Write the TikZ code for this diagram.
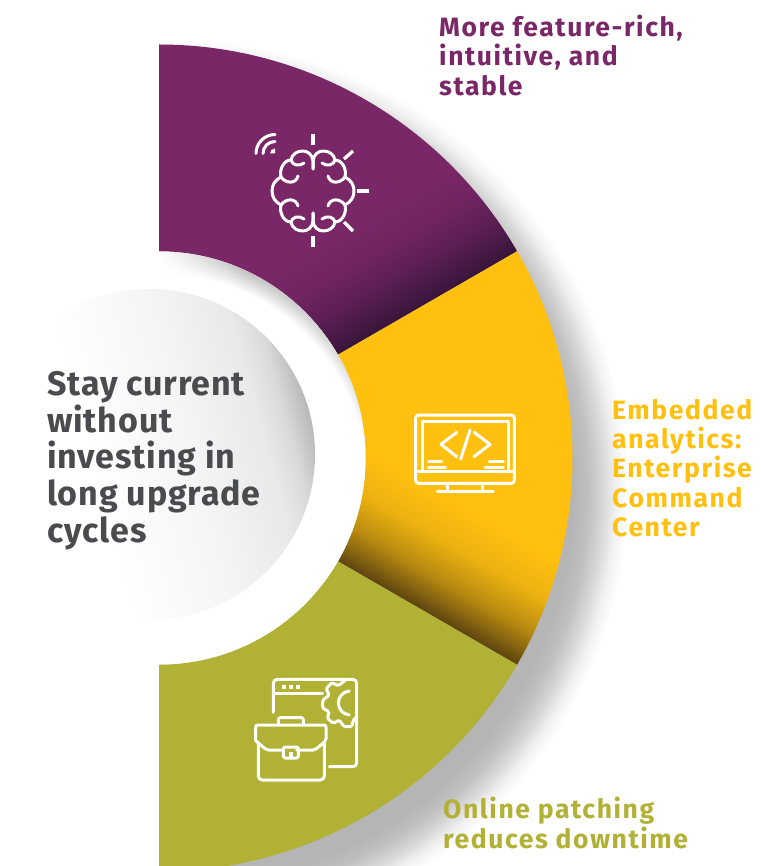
\documentclass[tikz,border=0pt]{standalone}
\usepackage{fontspec}
\setmainfont{Fira Sans}
\newfontfamily\labelfont{Fira Sans}[LetterSpace=6]
\newfontfamily\titlefont{Fira Sans}[LetterSpace=2.5]
\usetikzlibrary{fadings}
\definecolor{plum}{HTML}{7A2768}
\definecolor{plumdark}{HTML}{38153A}
\colorlet{plumA}{plum!50!plumdark}
\colorlet{plumB}{plum!85!plumdark}
\definecolor{amber}{HTML}{FFC010}
\definecolor{amberdark}{HTML}{5E4510}
\colorlet{amberA}{amber!55!amberdark}
\colorlet{amberB}{amber!88!amberdark}
\definecolor{olive}{HTML}{B1B135}
\definecolor{inktext}{HTML}{4A4B4F}
\definecolor{sdA}{HTML}{B5B5B5}
\definecolor{sdB}{HTML}{C0C0C0}
\definecolor{sdC}{HTML}{D8D8D8}
\definecolor{sdD}{HTML}{F0F0F0}
\definecolor{inA}{HTML}{DDDDDD}
\definecolor{inB}{HTML}{ACACAC}
\definecolor{ciA}{HTML}{F5F5F5}
\definecolor{ciB}{HTML}{E9E9E9}
\definecolor{ciC}{HTML}{DADADA}
\definecolor{ciD}{HTML}{B8B8B8}
\pgfdeclareradialshading{outershadow}{\pgfpoint{0bp}{0bp}}{color(0bp)=(sdA);color(21.94bp)=(sdA);color(22.78bp)=(sdB);color(23.61bp)=(sdC);color(24.28bp)=(sdD);color(25bp)=(white);color(50bp)=(white)}
\pgfdeclareradialshading{innershadow}{\pgfpoint{0bp}{0bp}}{color(0bp)=(white);color(22.02bp)=(white);color(23.19bp)=(inA);color(25bp)=(inB);color(50bp)=(inB)}
\pgfdeclarehorizontalshading{circlegrad}{100bp}{color(0bp)=(white);color(40.9bp)=(white);color(56bp)=(ciA);color(67.4bp)=(ciB);color(71.2bp)=(ciC);color(75bp)=(ciD);color(100bp)=(ciD)}
\pgfdeclareverticalshading{plumgrad}{100bp}{color(0bp)=(plumdark);color(50bp)=(plumdark);color(52.19bp)=(plumA);color(54.38bp)=(plumB);color(56.88bp)=(plum);color(100bp)=(plum)}
\pgfdeclareverticalshading{ambergrad}{100bp}{color(0bp)=(amberdark);color(50bp)=(amberdark);color(52.19bp)=(amberA);color(54.38bp)=(amberB);color(56.88bp)=(amber);color(100bp)=(amber)}
\newcommand{\sectorpath}[2]{(#1:413.5) arc[start angle=#1,end angle=#2,radius=413.5] -- (#2:206.5) arc[start angle=#2,end angle=#1,radius=206.5] -- cycle}
\tikzset{
  iconline/.style={draw=white,line width=3pt,line cap=round,line join=round},
  ticks/.style={draw=white,line width=3.3pt,line cap=butt},
  labeltext/.style={inner sep=0pt,anchor=north west,align=left,font=\fontsize{26.5}{29.3}\labelfont\bfseries},
  sectorframe/.style={shift={(159,458)},y=1pt},
}
\begin{document}
\begin{tikzpicture}[x=1pt,y=-1pt]
\useasboundingbox (0,0) rectangle (760,866);
\clip (0,0) rectangle (760,866);
\fill[white] (0,0) rectangle (760,866);
% outer shadow
\begin{scope}
  \clip (159,0) rectangle (760,866);
  \shade[shading=outershadow] (178,490) circle[radius=450];
\end{scope}
% sectors
\begin{scope}
  \clip[sectorframe] \sectorpath{90}{30};
  \shade[shading=plumgrad,shading angle=30] (27.5,-97) rectangle (827.5,703);
\end{scope}
\begin{scope}
  \clip[sectorframe] \sectorpath{30}{-30};
  \shade[shading=ambergrad,shading angle=-30] (27.5,213) rectangle (827.5,1013);
\end{scope}
\fill[olive,sectorframe] \sectorpath{-30}{-90};
\fill[white] (159,458) circle[radius=206.5];
% inner shadow
\begin{scope}
  \clip (159,458) circle[radius=206.5];
  \clip (159,200) rectangle (400,700);
  \shade[shading=innershadow] (159,481) circle[radius=235];
  \fill[white,path fading=east] (159,240) rectangle (245,330);
\end{scope}
% central disc
\shade[shading=circlegrad,shading angle=15] (149.5,454.5) circle[radius=165.5];
\node[inner sep=0pt,anchor=north west,align=left,text=inktext,font=\fontsize{34}{36.8}\titlefont\bfseries] (title) at (47,371) {Stay current\\without\\investing in\\long upgrade\\cycles};
% labels
\node[labeltext,text=plum] (lab1) at (439,15) {More feature-rich,\\intuitive, and\\stable};
\node[labeltext,text=amber] (lab2) at (612,399) {Embedded\\analytics:\\Enterprise\\Command\\Center};
\node[labeltext,text=olive] (lab3) at (443,797) {Online patching\\reduces downtime};
% brain icon
\draw[ticks] (313,134) -- (313,145);
\draw[ticks] (313,236) -- (313,247);
\draw[ticks] (357,191) -- (369,191);
\draw[ticks] (344,159) -- (353,151);
\draw[ticks] (344,222) -- (353,231);
\begin{scope}[iconline]
  \draw (275,153.5) ++(-19,0) arc[start angle=180,end angle=270,radius=19];
  \draw (275,153.5) ++(-12,0) arc[start angle=180,end angle=270,radius=12];
\end{scope}
\fill[white] (275,153.5) -- ++(-5,0) arc[start angle=180,end angle=270,radius=5] -- cycle;
\foreach \sx/\sy in {1/1,-1/1,1/-1,-1/-1}{
  \begin{scope}[shift={(313,191)},xscale=\sx,yscale=\sy,y=1pt,iconline]
    \draw (0,22) -- (0,30) .. controls (0.5,36) and (5,40) .. (10,40) .. controls (16,40) and (21,37) .. (22,31) .. controls (29,31) and (34,22) .. (32,14) .. controls (38,11) and (41,6) .. (41,0);
    \draw (22,31) .. controls (21,26) and (14,24) .. (9,28);
    \draw (32,14) .. controls (27,7) and (17,7) .. (15,15);
  \end{scope}
}
% monitor icon
\begin{scope}[iconline]
  \draw[rounded corners=3pt] (415.7,415) rectangle (514.3,483.3);
  \draw (422.3,471.7) -- (422.3,421.7) -- (508.3,421.7) -- (508.3,471.7);
  \draw (415.7,471.7) -- (514.3,471.7);
  \draw (447.7,483.3) -- (447.7,491.7);
  \draw (482.3,483.3) -- (482.3,491.7);
  \draw (437.3,491.7) -- (493.3,491.7);
  \draw (456.7,432.3) -- (441,444.3) -- (456.7,456.7);
  \draw (474,432.3) -- (490,444.3) -- (474,456.7);
  \draw (470,430) -- (460.7,459);
  \draw (428.3,461.3) -- (441.7,461.3);
  \draw (428.3,467.3) -- (445.7,467.3);
  \draw (489.3,461.3) -- (503.3,461.3);
  \draw (485,467.3) -- (503.3,467.3);
\end{scope}
% window + gear + briefcase icon
\begin{scope}[iconline]
  \draw[rounded corners=4pt] (273.3,712.3) -- (273.3,679.3) -- (356.7,679.3) -- (356.7,766.7) -- (329.3,766.7);
  \draw (274.3,693.3) -- (322.7,693.3);
  \draw[rounded corners=1.5pt] (345,680.5) -- (338.3,685.7) -- (331.7,682.7) -- (326,689) -- (329.3,695) -- (322.7,700) -- (322.7,708.3) -- (329.3,711.7) -- (327.3,718.3) -- (333.3,723.3) -- (339.3,720) -- (344,726.7) -- (351.7,726.7) -- (353.3,720) -- (356.7,717);
  \draw (349.3,691) arc[start angle=265,end angle=95,radius=12];
  \draw[rounded corners=2pt] (278.3,724) -- (278.3,717.7) -- (303.3,717.7) -- (303.3,724);
  \draw[rounded corners=2pt] (255.7,740.7) -- (255.7,725) -- (326,725) -- (326,740.7) -- (315,750) -- (296.7,750);
  \draw[rounded corners=2pt] (283.3,750) -- (266.7,750) -- (255.7,740.7);
  \draw[rounded corners=4pt] (258.3,743) -- (258.3,780) -- (324.3,780) -- (324.3,743);
  \draw[rounded corners=2pt] (283.3,747) -- (283.3,758) -- (298.3,758) -- (298.3,747) -- cycle;
\end{scope}
\fill[white] (289,752.3) rectangle (293.3,756.7);
\fill[white] (281.7,685) rectangle (285.7,689);
\fill[white] (289,685) rectangle (293.3,689);
\fill[white] (296,685) rectangle (300,689);
\end{tikzpicture}
\end{document}
